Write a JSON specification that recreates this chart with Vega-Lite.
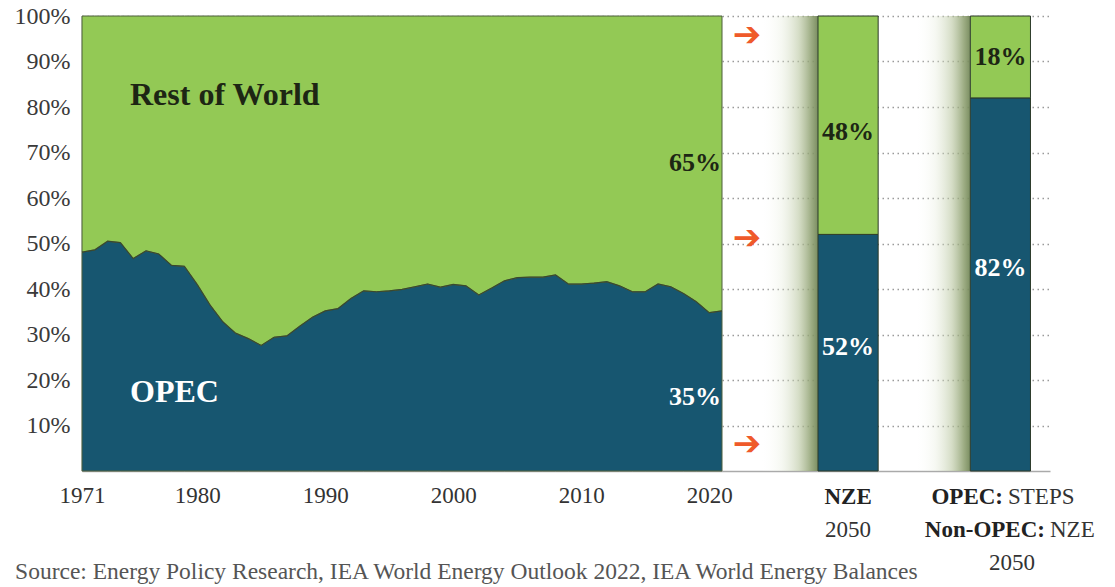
{
  "$schema": "https://vega.github.io/schema/vega-lite/v6.json",
  "width": 968,
  "height": 455,
  "autosize": {"type": "none"},
  "padding": {"left": 82, "top": 16, "right": 65, "bottom": 116},
  "config": {"view": {"stroke": null}, "font": "Liberation Serif"},
  "datasets": {
    "share": [
      {"year": 1971, "opec": 0.481, "rest": 0.519}, {"year": 1972, "opec": 0.486, "rest": 0.514}, {"year": 1973, "opec": 0.505, "rest": 0.495},
      {"year": 1974, "opec": 0.502, "rest": 0.498}, {"year": 1975, "opec": 0.467, "rest": 0.533}, {"year": 1976, "opec": 0.484, "rest": 0.516},
      {"year": 1977, "opec": 0.477, "rest": 0.523}, {"year": 1978, "opec": 0.452, "rest": 0.548}, {"year": 1979, "opec": 0.45, "rest": 0.55},
      {"year": 1980, "opec": 0.41, "rest": 0.59}, {"year": 1981, "opec": 0.365, "rest": 0.635}, {"year": 1982, "opec": 0.328, "rest": 0.672},
      {"year": 1983, "opec": 0.303, "rest": 0.697}, {"year": 1984, "opec": 0.291, "rest": 0.709}, {"year": 1985, "opec": 0.276, "rest": 0.724},
      {"year": 1986, "opec": 0.294, "rest": 0.706}, {"year": 1987, "opec": 0.297, "rest": 0.703}, {"year": 1988, "opec": 0.318, "rest": 0.682},
      {"year": 1989, "opec": 0.338, "rest": 0.662}, {"year": 1990, "opec": 0.352, "rest": 0.648}, {"year": 1991, "opec": 0.357, "rest": 0.643},
      {"year": 1992, "opec": 0.379, "rest": 0.621}, {"year": 1993, "opec": 0.396, "rest": 0.604}, {"year": 1994, "opec": 0.394, "rest": 0.606},
      {"year": 1995, "opec": 0.396, "rest": 0.604}, {"year": 1996, "opec": 0.399, "rest": 0.601}, {"year": 1997, "opec": 0.405, "rest": 0.595},
      {"year": 1998, "opec": 0.411, "rest": 0.589}, {"year": 1999, "opec": 0.404, "rest": 0.596}, {"year": 2000, "opec": 0.41, "rest": 0.59},
      {"year": 2001, "opec": 0.407, "rest": 0.593}, {"year": 2002, "opec": 0.387, "rest": 0.613}, {"year": 2003, "opec": 0.402, "rest": 0.598},
      {"year": 2004, "opec": 0.418, "rest": 0.582}, {"year": 2005, "opec": 0.425, "rest": 0.575}, {"year": 2006, "opec": 0.426, "rest": 0.574},
      {"year": 2007, "opec": 0.426, "rest": 0.574}, {"year": 2008, "opec": 0.431, "rest": 0.569}, {"year": 2009, "opec": 0.411, "rest": 0.589},
      {"year": 2010, "opec": 0.411, "rest": 0.589}, {"year": 2011, "opec": 0.413, "rest": 0.587}, {"year": 2012, "opec": 0.416, "rest": 0.584},
      {"year": 2013, "opec": 0.407, "rest": 0.593}, {"year": 2014, "opec": 0.394, "rest": 0.606}, {"year": 2015, "opec": 0.394, "rest": 0.606},
      {"year": 2016, "opec": 0.411, "rest": 0.589}, {"year": 2017, "opec": 0.405, "rest": 0.595}, {"year": 2018, "opec": 0.39, "rest": 0.61},
      {"year": 2019, "opec": 0.372, "rest": 0.628}, {"year": 2020, "opec": 0.348, "rest": 0.652}, {"year": 2021, "opec": 0.352, "rest": 0.648}
    ],
    "bars": [
      {"scenario": "NZE 2050", "from": 2028.5, "to": 2033.2, "opec": 0.52, "rest": 0.48},
      {"scenario": "OPEC: STEPS / Non-OPEC: NZE 2050", "from": 2040.4, "to": 2045.1, "opec": 0.82, "rest": 0.18}
    ],
    "bands": [
      {"from": 2021, "to": 2028.5},
      {"from": 2033.2, "to": 2040.4}
    ]
  },
  "layer": [
    {
      "data": {"name": "share"},
      "transform": [
        {"fold": ["opec", "rest"], "as": ["series", "share"]},
        {"stack": "share", "groupby": ["year"], "sort": [{"field": "series", "order": "ascending"}], "as": ["lo", "hi"]}
      ],
      "mark": {"type": "area", "stroke": "#4d5e3c", "strokeWidth": 1},
      "encoding": {
        "x": {"field": "year", "type": "quantitative",
              "scale": {"domain": [1971, 2046.625], "nice": false, "zero": false},
              "axis": {"values": [1971, 1980, 1990, 2000, 2010, 2020], "format": "d", "title": null,
                       "grid": false, "ticks": false, "labelPadding": 13, "labelFontSize": 23, "labelFlush": false,
                       "labelFont": "Liberation Serif", "labelColor": "#333333",
                       "domainColor": "#aaaaaa", "domainWidth": 1.5}},
        "y": {"field": "hi", "type": "quantitative",
              "scale": {"domain": [0, 1], "nice": false},
              "axis": {"values": [0.1, 0.2, 0.3, 0.4, 0.5, 0.6, 0.7, 0.8, 0.9, 1.0], "format": ".0%", "title": null,
                       "ticks": false, "labelPadding": 12, "labelFontSize": 24, "labelFlush": false,
                       "labelFont": "Liberation Serif", "labelColor": "#3a3a3a",
                       "grid": true, "gridDash": [1.5, 3.5], "gridColor": "#9a9a9a", "gridWidth": 1.6,
                       "domainColor": "#aaaaaa", "domainWidth": 1.5}},
        "y2": {"field": "lo"},
        "color": {"field": "series", "type": "nominal",
                  "scale": {"domain": ["opec", "rest"], "range": ["#175670", "#93c955"]}, "legend": null}
      }
    },
    {
      "data": {"name": "share"},
      "mark": {"type": "line", "color": "#34422c", "strokeWidth": 1.2, "opacity": 0.8},
      "encoding": {
        "x": {"field": "year", "type": "quantitative", "scale": {"domain": [1971, 2046.625], "nice": false, "zero": false}, "axis": {"title": null}},
        "y": {"field": "opec", "type": "quantitative", "scale": {"domain": [0, 1], "nice": false}, "axis": {"title": null}}
      }
    },
    {
      "data": {"name": "bands"},
      "mark": {"type": "rect",
               "fill": {"gradient": "linear", "x1": 0, "y1": 0, "x2": 1, "y2": 0,
                        "stops": [
                          {"offset": 0, "color": "rgba(255,255,255,0)"},
                          {"offset": 0.4, "color": "rgba(255,255,255,0)"},
                          {"offset": 0.62, "color": "rgba(225,232,212,0.3)"},
                          {"offset": 0.8, "color": "rgba(185,198,160,0.6)"},
                          {"offset": 0.93, "color": "rgba(140,158,110,0.85)"},
                          {"offset": 1, "color": "rgba(115,135,88,0.95)"}
                        ]}},
      "encoding": {
        "x": {"field": "from", "type": "quantitative", "scale": {"domain": [1971, 2046.625], "nice": false, "zero": false}, "axis": {"title": null}},
        "x2": {"field": "to"},
        "y": {"datum": 0, "type": "quantitative", "scale": {"domain": [0, 1], "nice": false}, "axis": {"title": null}},
        "y2": {"datum": 1}
      }
    },
    {
      "data": {"name": "bars"},
      "transform": [
        {"fold": ["opec", "rest"], "as": ["series", "share"]},
        {"stack": "share", "groupby": ["scenario"], "sort": [{"field": "series", "order": "ascending"}], "as": ["lo", "hi"]}
      ],
      "mark": {"type": "rect", "stroke": "#2c3a2a", "strokeWidth": 1},
      "encoding": {
        "x": {"field": "from", "type": "quantitative", "scale": {"domain": [1971, 2046.625], "nice": false, "zero": false}, "axis": {"title": null}},
        "x2": {"field": "to"},
        "y": {"field": "lo", "type": "quantitative", "scale": {"domain": [0, 1], "nice": false}, "axis": {"title": null}},
        "y2": {"field": "hi"},
        "color": {"field": "series", "type": "nominal",
                  "scale": {"domain": ["opec", "rest"], "range": ["#175670", "#93c955"]}, "legend": null}
      }
    },
    {
      "data": {"values": [{"label": "Rest of World", "x": 1974.75, "y": 0.826}]},
      "mark": {"type": "text", "align": "left", "baseline": "middle", "font": "Liberation Serif", "fontWeight": "bold", "fontSize": 32, "color": "#1d2614"},
      "encoding": {
        "x": {"field": "x", "type": "quantitative", "scale": {"domain": [1971, 2046.625], "nice": false, "zero": false}, "axis": {"title": null}},
        "y": {"field": "y", "type": "quantitative", "scale": {"domain": [0, 1], "nice": false}, "axis": {"title": null}},
        "text": {"field": "label"}
      }
    },
    {
      "data": {"values": [{"label": "OPEC", "x": 1974.75, "y": 0.174}]},
      "mark": {"type": "text", "align": "left", "baseline": "middle", "font": "Liberation Serif", "fontWeight": "bold", "fontSize": 32, "color": "#ffffff"},
      "encoding": {
        "x": {"field": "x", "type": "quantitative", "scale": {"domain": [1971, 2046.625], "nice": false, "zero": false}, "axis": {"title": null}},
        "y": {"field": "y", "type": "quantitative", "scale": {"domain": [0, 1], "nice": false}, "axis": {"title": null}},
        "text": {"field": "label"}
      }
    },
    {
      "data": {"values": [
        {"label": "65%", "x": 2018.9, "y": 0.677},
        {"label": "48%", "x": 2030.85, "y": 0.745},
        {"label": "18%", "x": 2042.75, "y": 0.91}
      ]},
      "mark": {"type": "text", "align": "center", "baseline": "middle", "font": "Liberation Serif", "fontWeight": "bold", "fontSize": 26, "color": "#1d2614"},
      "encoding": {
        "x": {"field": "x", "type": "quantitative", "scale": {"domain": [1971, 2046.625], "nice": false, "zero": false}, "axis": {"title": null}},
        "y": {"field": "y", "type": "quantitative", "scale": {"domain": [0, 1], "nice": false}, "axis": {"title": null}},
        "text": {"field": "label"}
      }
    },
    {
      "data": {"values": [
        {"label": "35%", "x": 2018.9, "y": 0.163},
        {"label": "52%", "x": 2030.85, "y": 0.273},
        {"label": "82%", "x": 2042.75, "y": 0.446}
      ]},
      "mark": {"type": "text", "align": "center", "baseline": "middle", "font": "Liberation Serif", "fontWeight": "bold", "fontSize": 26, "color": "#ffffff"},
      "encoding": {
        "x": {"field": "x", "type": "quantitative", "scale": {"domain": [1971, 2046.625], "nice": false, "zero": false}, "axis": {"title": null}},
        "y": {"field": "y", "type": "quantitative", "scale": {"domain": [0, 1], "nice": false}, "axis": {"title": null}},
        "text": {"field": "label"}
      }
    },
    {
      "data": {"values": [
        {"label": "➔", "x": 2022.95, "y": 0.956},
        {"label": "➔", "x": 2022.95, "y": 0.51},
        {"label": "➔", "x": 2022.95, "y": 0.057}
      ]},
      "mark": {"type": "text", "align": "center", "baseline": "middle", "font": "DejaVu Sans", "fontWeight": "bold", "fontSize": 34, "color": "#ef5a2a"},
      "encoding": {
        "x": {"field": "x", "type": "quantitative", "scale": {"domain": [1971, 2046.625], "nice": false, "zero": false}, "axis": {"title": null}},
        "y": {"field": "y", "type": "quantitative", "scale": {"domain": [0, 1], "nice": false}, "axis": {"title": null}},
        "text": {"field": "label"}
      }
    },
    {
      "data": {"values": [{"label": "NZE", "x": 2030.85, "y": -0.057}]},
      "mark": {"type": "text", "align": "center", "baseline": "middle", "font": "Liberation Serif", "fontWeight": "bold", "fontSize": 23, "color": "#222222"},
      "encoding": {
        "x": {"field": "x", "type": "quantitative", "scale": {"domain": [1971, 2046.625], "nice": false, "zero": false}, "axis": {"title": null}},
        "y": {"field": "y", "type": "quantitative", "scale": {"domain": [0, 1], "nice": false}, "axis": {"title": null}},
        "text": {"field": "label"}
      }
    },
    {
      "data": {"values": [
        {"label": "2050", "x": 2030.85, "y": -0.13},
        {"label": "2050", "x": 2043.66, "y": -0.202}
      ]},
      "mark": {"type": "text", "align": "center", "baseline": "middle", "font": "Liberation Serif", "fontSize": 23, "color": "#333333"},
      "encoding": {
        "x": {"field": "x", "type": "quantitative", "scale": {"domain": [1971, 2046.625], "nice": false, "zero": false}, "axis": {"title": null}},
        "y": {"field": "y", "type": "quantitative", "scale": {"domain": [0, 1], "nice": false}, "axis": {"title": null}},
        "text": {"field": "label"}
      }
    },
    {
      "data": {"values": [
        {"label": "OPEC:", "x": 2043.11, "y": -0.057},
        {"label": "Non-OPEC:", "x": 2046.39, "y": -0.13}
      ]},
      "mark": {"type": "text", "align": "right", "baseline": "middle", "dx": -2, "font": "Liberation Serif", "fontWeight": "bold", "fontSize": 23, "color": "#222222"},
      "encoding": {
        "x": {"field": "x", "type": "quantitative", "scale": {"domain": [1971, 2046.625], "nice": false, "zero": false}, "axis": {"title": null}},
        "y": {"field": "y", "type": "quantitative", "scale": {"domain": [0, 1], "nice": false}, "axis": {"title": null}},
        "text": {"field": "label"}
      }
    },
    {
      "data": {"values": [
        {"label": "STEPS", "x": 2043.11, "y": -0.057},
        {"label": "NZE", "x": 2046.39, "y": -0.13}
      ]},
      "mark": {"type": "text", "align": "left", "baseline": "middle", "dx": 3, "font": "Liberation Serif", "fontSize": 23, "color": "#333333"},
      "encoding": {
        "x": {"field": "x", "type": "quantitative", "scale": {"domain": [1971, 2046.625], "nice": false, "zero": false}, "axis": {"title": null}},
        "y": {"field": "y", "type": "quantitative", "scale": {"domain": [0, 1], "nice": false}, "axis": {"title": null}},
        "text": {"field": "label"}
      }
    },
    {
      "data": {"values": [{"label": "Source: Energy Policy Research, IEA World Energy Outlook 2022, IEA World Energy Balances", "x": 1965.77, "y": -0.222}]},
      "mark": {"type": "text", "align": "left", "baseline": "middle", "font": "Liberation Serif", "fontSize": 23.5, "color": "#555555"},
      "encoding": {
        "x": {"field": "x", "type": "quantitative", "scale": {"domain": [1971, 2046.625], "nice": false, "zero": false}, "axis": {"title": null}},
        "y": {"field": "y", "type": "quantitative", "scale": {"domain": [0, 1], "nice": false}, "axis": {"title": null}},
        "text": {"field": "label"}
      }
    }
  ]
}
